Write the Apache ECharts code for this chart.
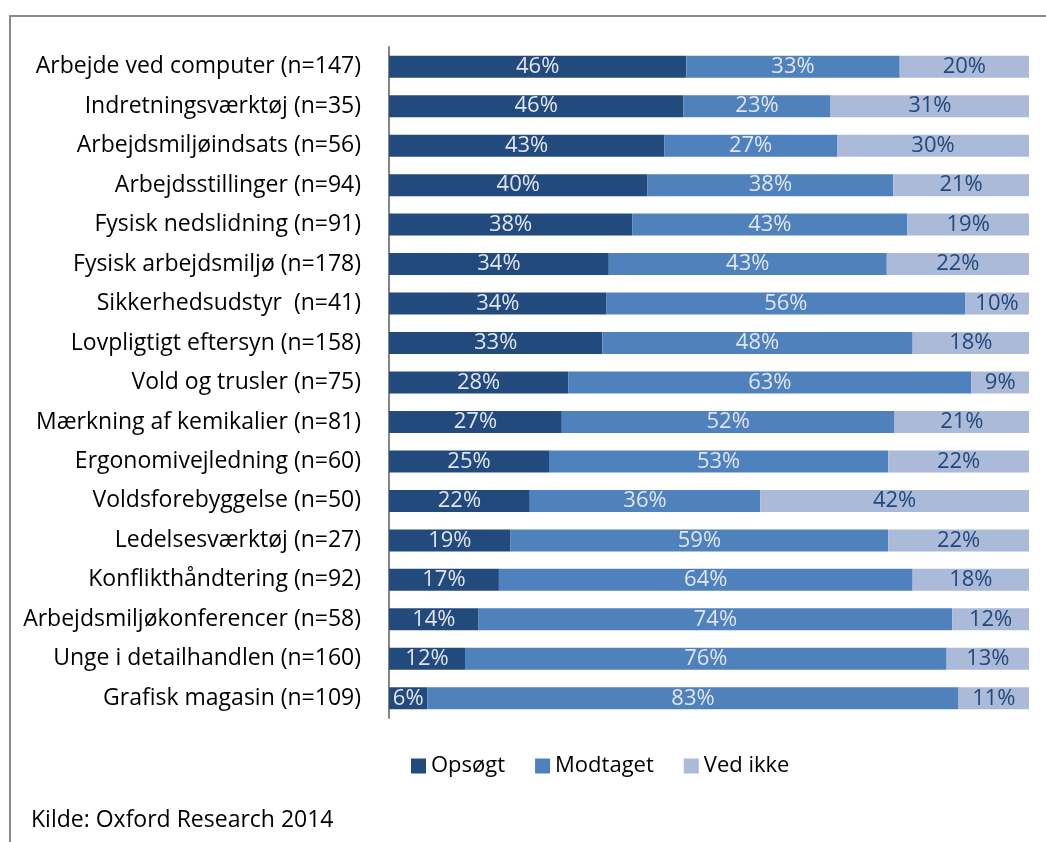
<!DOCTYPE html>
<html>
<head>
<meta charset="utf-8">
<script src="https://cdn.jsdelivr.net/npm/echarts@6/dist/echarts.min.js"></script>
<style>
  html, body { margin: 0; padding: 0; background: #fff; }
  #chart { width: 1046px; height: 842px; }
</style>
</head>
<body>
<div id="chart"></div>
<script>
var categories = [
  'Arbejde ved computer (n=147)',
  'Indretningsværktøj (n=35)',
  'Arbejdsmiljøindsats (n=56)',
  'Arbejdsstillinger (n=94)',
  'Fysisk nedslidning (n=91)',
  'Fysisk arbejdsmiljø (n=178)',
  'Sikkerhedsudstyr  (n=41)',
  'Lovpligtigt eftersyn (n=158)',
  'Vold og trusler (n=75)',
  'Mærkning af kemikalier (n=81)',
  'Ergonomivejledning (n=60)',
  'Voldsforebyggelse (n=50)',
  'Ledelsesværktøj (n=27)',
  'Konflikthåndtering (n=92)',
  'Arbejdsmiljøkonferencer (n=58)',
  'Unge i detailhandlen (n=160)',
  'Grafisk magasin (n=109)'
]
var opsoegt = [46, 46, 43, 40, 38, 34, 34, 33, 28, 27, 25, 22, 19, 17, 14, 12, 6]
var modtaget = [33, 23, 27, 38, 43, 43, 56, 48, 63, 52, 53, 36, 59, 64, 74, 76, 83]
var vedIkke = [20, 31, 30, 21, 19, 22, 10, 18, 9, 21, 22, 42, 22, 18, 12, 13, 11]
var seriesNames = ['Opsøgt', 'Modtaget', 'Ved ikke']

var font = 'Open Sans'
var chart = echarts.init(document.getElementById('chart'))

// 100% stacked: each row is scaled to its own total, labels keep the printed value
function share(arr) {
  return arr.map(function (v, i) {
    var total = opsoegt[i] + modtaget[i] + vedIkke[i]
    return { value: v / total * 100, raw: v }
  })
}

function makeSeries(name, arr, color, labelColor) {
  return {
    name: name,
    type: 'bar',
    stack: 'all',
    barWidth: 22,
    data: share(arr),
    itemStyle: { color: color },
    label: {
      show: true,
      position: 'inside',
      color: labelColor,
      fontFamily: font,
      fontSize: 22,
      padding: [3, 0, 0, 0],
      formatter: function (p) { return p.data.raw + '%' }
    }
  }
}

var option = {
  animation: false,
  textStyle: { fontFamily: font },
  grid: { left: 389, right: 17, top: 47, height: 671 },
  legend: {
    left: 406,
    top: 750,
    itemWidth: 15,
    itemHeight: 15,
    itemGap: 30,
    icon: 'rect',
    textStyle: { fontFamily: font, fontSize: 22, color: '#000' },
    data: seriesNames
  },
  xAxis: { type: 'value', min: 0, max: 100, show: false },
  yAxis: {
    type: 'category',
    inverse: true,
    data: categories,
    axisLine: { show: true, lineStyle: { color: '#868686', width: 2 } },
    axisTick: { show: false },
    axisLabel: { color: '#000', fontFamily: font, fontSize: 23, margin: 28, padding: [4, 0, 0, 0] }
  },
  graphic: [
    {
      type: 'rect',
      shape: { x: 10, y: 16, width: 1100, height: 900 },
      style: { fill: 'none', stroke: '#8a8a8a', lineWidth: 2 }
    },
    {
      type: 'text',
      left: 31,
      top: 809,
      style: { text: 'Kilde: Oxford Research 2014', fill: '#000', font: '23px ' + font }
    }
  ],
  series: [
    makeSeries(seriesNames[0], opsoegt, '#234a7c', '#dfe5ee'),
    makeSeries(seriesNames[1], modtaget, '#4f81bd', '#dfe5ee'),
    makeSeries(seriesNames[2], vedIkke, '#aabad8', '#23497b')
  ]
}

chart.setOption(option)
</script>
</body>
</html>
